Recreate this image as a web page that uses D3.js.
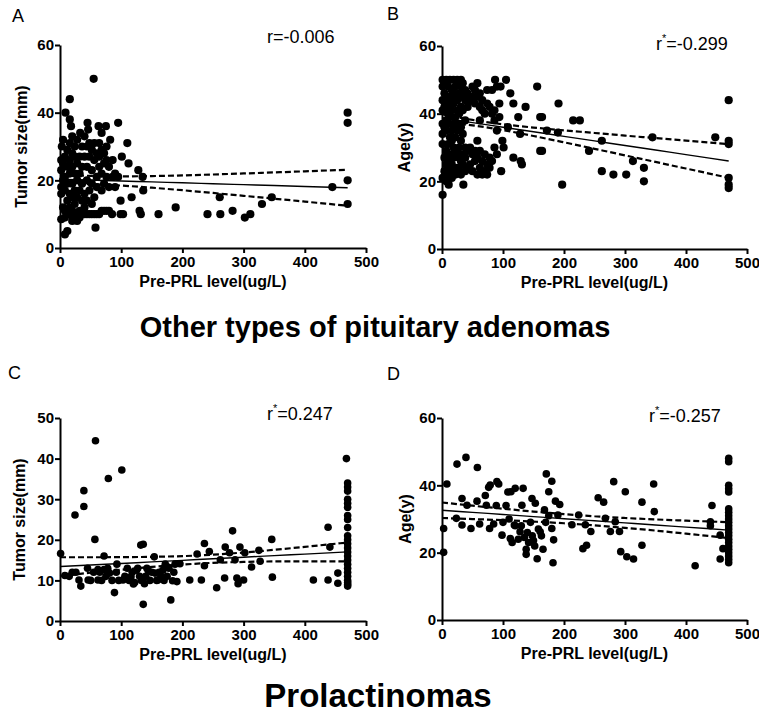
<!DOCTYPE html>
<html><head><meta charset="utf-8">
<script src="https://cdn.jsdelivr.net/npm/d3@7"></script>
<style>body{margin:0;background:#fff;} svg{display:block;font-family:"Liberation Sans",Arial,sans-serif;}</style>
</head><body><svg id="c" width="759" height="715"></svg>
<script>
// ---------- data ----------
const xTicks = [0,100,200,300,400,500];
const yTicks60 = [0,20,40,60];
const yTicks50 = [0,10,20,30,40,50];
const fitX = [0,50,100,150,200,250,300,350,400,470];

// A: other adenomas, tumor size vs PRL
const tumorOther = [[2,8.5],[2,16],[2,18],[2,23],[2,26],[3,30],
[5,12],[5,20],[5,25],[5,32],
[8,4],[8,9],[8,11],[8,17],[8,21],[8,27],[9,40],
[12,5],[12,10],[12,14],[12,19],[12,24],[12,29],[16,38],
[16,10],[16,12],[16,16],[16,22],[16,26],[16,31],[18,36],[16,44],
[20,8],[20,11],[20,15],[20,19],[20,24],[20,28],[20,33],
[24,10],[24,13],[24,17],[24,22],[24,27],[24,30],
[28,8],[28,10],[28,15],[28,20],[28,25],[28,32],
[32,9],[32,11],[32,17],[32,22],[32,27],[33,34],
[36,10],[36,14],[36,19],[36,24],[36,30],
[40,10],[40,12],[40,16],[40,27],[40,33],
[44,10],[44,14],[44,20],[44,24],[44,30],[45,37],
[48,10],[48,17],[48,27],[48,31],[46,35],
[52,10],[52,13],[52,19],[52,23],[52,29],
[56,10],[56,15],[56,26],[56,31],[58,6],[55,50],
[60,10],[60,18],[60,21],[60,28],[63,36],
[64,10],[64,24],[64,27],[64,31],[68,34],
[68,11],[68,17],[68,22],[68,29],
[72,11],[72,19],[72,25],[72,28],[75,36],
[76,11],[76,21],[76,26],[76,30],
[80,11],[80,18],[80,24],[82,32],
[85,10],[86,21],[86,26],[90,18],[90,22],[95,37],[95,21],[99,14],[101,27],[99,10],[103,10],
[110,31],[112,25],[117,15],[128,23],[135,21],[136,17],[132,10],[130,11],
[161,10],[189,12],[241,10],[261,15],[262,10],[282,11],[302,9],[311,10],[330,13],[346,15],
[445,18],[470,40],[470,37],[470,20],[470,13]];
const fitA = [20.35,20.08,19.81,19.54,19.27,19.0,18.73,18.46,18.19,17.81];
const upA  = [21.77,21.32,21.17,21.26,21.46,21.73,22.03,22.34,22.67,23.13];
const loA  = [18.93,18.84,18.45,17.82,17.08,16.27,15.43,14.58,13.71,12.49];

// B: other adenomas, age vs PRL
const ageOther = [[1,21],[1,31],[1,34],[1,37],[1,41],[1,44],[1,48],[1,50],
[4,23],[4,27],[4,36],[4,42],[4,46],[4,49],
[7,20],[7,25],[7,29],[7,35],[7,38],[7,44],[7,50],
[10,22],[10,26],[10,31],[10,37],[10,40],[10,45],[10,48],
[13,24],[13,28],[13,33],[13,39],[13,42],[13,50],
[16,21],[16,25],[16,32],[16,35],[16,41],[16,44],[16,47],
[19,23],[19,27],[19,30],[19,37],[19,43],[19,46],[19,50],
[22,22],[22,29],[22,33],[22,36],[22,39],[22,45],[22,48],
[25,24],[25,28],[25,35],[25,41],[25,44],[25,50],
[28,23],[28,27],[28,30],[28,37],[28,40],[28,46],[28,49],
[31,22],[31,26],[31,32],[31,36],[31,42],[31,48],[31,50],
[34,25],[34,28],[34,34],[34,41],[34,45],[34,49],
[38,23],[38,27],[38,30],[38,38],[38,44],[38,47],
[42,24],[42,29],[42,42],[42,46],
[46,25],[46,30],[46,44],
[50,23],[50,28],[50,45],[50,48],
[54,26],[54,29],[54,43],[54,47],
[58,22],[58,27],[58,32],[58,45],[58,49],
[62,24],[62,29],[62,38],[62,42],[62,46],
[66,22],[66,26],[66,41],[66,44],
[70,23],[70,28],[70,40],
[74,22],[74,25],[74,43],[74,47],
[78,24],[78,27],[78,42],
[82,26],[82,40],[82,47],[86,30],[86,38],[86,41],[90,28],[90,35],[90,48],
[1,16],[11,19],[35,19],[87,50],[105,50],[96,48],[112,46],[117,43],[94,43],[94,39],[125,39],
[137,42],[108,36],[128,34],[156,48],[161,39],[164,39],[172,35],[190,34.4],[191,43],
[161,29],[164,29],[99,32],[101,30],[97,23],[117,27],[131,25],[129,26],[215,38],[226,38],
[241,29],[197,19],[262,32],[262,23],[281,22],[302,22],[313,26],[331,24],[331,20],[345,33],
[448,33],[470,44],[470,32],[470,31],[470,21],[470,19],[470,18]];
const fitB = [38.7,37.35,36.0,34.65,33.3,31.95,30.6,29.25,27.9,26.01];
const upB  = [39.86,38.16,36.86,35.9,35.07,34.29,33.52,32.77,32.02,30.97];
const loB  = [37.54,36.54,35.14,33.4,31.53,29.61,27.68,25.73,23.78,21.05];

// C: prolactinomas, tumor size vs PRL
const tumorPrl = [[1,16.6],[8,11.2],[24.5,26.1],[26,12],[31,10.1],[34,8.6],[39,32.1],[39,28.2],
[46,10.1],[58,44.4],[57,20.1],[62,10.1],[72,16],[62,12.7],[72,12.7],[81,11.8],[79,35.1],[101,37.2],
[89,7],[93,14],[103,10.1],[116,10.9],[120,9.1],[125,12.5],[132,18.7],[136,18.9],[136,4.1],[138,9.2],
[144,12.5],[154,15.8],[155,11.8],[160,10.1],[168,12.5],[176,13.3],[181,5.2],[184,9.9],[191,9.7],
[196,14.1],[212,10.1],[224,16.5],[231,10.1],[236,19.1],[236,13.6],[244,17.1],[256,8.2],[262,15.1],
[269,10.6],[270,18.2],[277,16.8],[282,22.2],[286,15.1],[289,10.6],[291,9.2],[294,18.2],[300,10.1],
[302,16.8],[313,13.3],[325,17.4],[327,14.7],[346,20.1],[347,10.8],[414,10.1],[438,23.1],[438,10.1],
[441,18.2],[454,9.3],[454,11.8],
[50,10],[55,12],[65,12],[68,10],[75,11],[78,13],[85,10],[92,12],[96,10],[106,11],[110,13],[113,10],
[118,12],[122,9.5],[127,13],[130,11],[133,10],[140,11],[142,13],[147,10],[150,12],[158,10],[162,12],
[165,11],[170,10],[172,14],[175,11],[178,13],[186,12],[188,14],[45,13],[20,12],[15,11],
[468,40],[470,34],[470,33],[470,32],[470,30],[470,29],[470,28],[470,26],[470,25],[470,23],[470,21],
[470,20],[470,19],[470,18],[470,17],[470,16],[470,15],[470,14],[470,13],[470,12],[470,11],[470,10],
[470,9.5],[470,9],[470,8.6]];
const fitC = [13.4,13.79,14.17,14.56,14.94,15.33,15.71,16.1,16.48,17.02];
const upC  = [15.7,15.7,15.72,15.81,15.98,16.34,16.87,17.53,18.26,19.34];
const loC  = [11.1,11.88,12.62,13.31,13.9,14.32,14.55,14.67,14.7,14.7];

// D: prolactinomas, age vs PRL
const agePrl = [[8,40.4],[2.7,27.2],[2.7,20.1],[24.6,46.3],[39.3,48.3],[58,45.3],[23.5,30.2],[32.8,36.1],
[41,34.1],[32.8,28.2],[47.5,27.2],[57.4,35.3],[61.7,28.5],[71,37],[76.5,39.4],[72.7,34.1],[79,40.1],
[90,41.1],[93,40.4],[89,34],[78,27.2],[84.7,28.5],[98.4,25.2],[112,24.2],[113,38.1],[120,39.1],
[133,39.1],[131,34.1],[118.6,28.2],[128,26.2],[135,24.5],[138,19.5],[138,21],[147.5,36.1],[153,34.7],
[150,23.6],[156,18.2],[161,26.2],[165.6,21],[168,32.7],[171,43.4],[175,38.1],[180,41.2],[182,17],
[183,23.8],[180,27.2],[186,35.3],[193,34.3],[190,31.2],[213,28.3],[224,31.2],[231,21.2],[237,22.2],
[235,28.3],[244,26.3],[256,36.3],[265,35],[267.8,30.2],[276,26.3],[281.5,41.1],[284,29.2],[291,26.3],
[293,20.3],[303,18.8],[314,18.1],[300.5,38.1],[327.8,35],[327.8,22.2],[347,40.4],[348,32.2],[415,16.1],
[442.6,34],[440,29.2],[440,28],[456,25.2],[456,18.1],[460.6,21.2],
[140,26],[142,23],[145,29],[130,28],[125,24],[148,25],[152,22],[158,27],[163,25],[170,29],[175,31],
[105,34],[100,29],[110,30],[115,23],[120,28],[108,38],
[470,48],[470,47],[470,40],[470,39],[470,38],[470,33],[470,32],[470,31],[470,30],[470,29],[470,28],
[470,27],[470,26],[470,25],[470,24],[470,23],[470,22],[470,21],[470,20],[470,19],[470,18],[470,17]];
const fitD = [32.6,31.97,31.35,30.72,30.09,29.46,28.84,28.21,27.58,26.7];
const upD  = [34.9,33.95,33.06,32.21,31.45,30.81,30.3,29.87,29.51,29.07];
const loD  = [30.3,29.99,29.64,29.23,28.73,28.11,27.38,26.55,25.65,24.33];

const xTitle = "Pre-PRL level(ug/L)";
const groupTitles = ["Other types of pituitary adenomas", "Prolactinomas"];

// ---------- layout ----------
const panels = [
  {letter:"A", lx:12, ly:22, x0:60, x1:366, yt:45, yb:248, ymax:60, yTicks:yTicks60, yTitle:"Tumor size(mm)", ytx:27,
   r:"r", rv:"=-0.006", star:false, rx:267, ry:43, pts:tumorOther, fit:fitA, up:upA, lo:loA, rad:4.1},
  {letter:"B", lx:387, ly:20, x0:442, x1:747, yt:46, yb:249, ymax:60, yTicks:yTicks60, yTitle:"Age(y)", ytx:410,
   r:"r", rv:"=-0.299", star:true, rx:656, ry:50, pts:ageOther, fit:fitB, up:upB, lo:loB, rad:4.1},
  {letter:"C", lx:8, ly:379, x0:60, x1:366, yt:418, yb:621, ymax:50, yTicks:yTicks50, yTitle:"Tumor size(mm)", ytx:25,
   r:"r", rv:"=0.247", star:true, rx:267, ry:420, pts:tumorPrl, fit:fitC, up:upC, lo:loC, rad:3.8},
  {letter:"D", lx:387, ly:380, x0:442, x1:747, yt:418, yb:620, ymax:60, yTicks:yTicks60, yTitle:"Age(y)", ytx:411,
   r:"r", rv:"=-0.257", star:true, rx:649, ry:422, pts:agePrl, fit:fitD, up:upD, lo:loD, rad:3.8}
];

const svg = d3.select("#c");

panels.forEach(p => {
  const g = svg.append("g");
  const x = d3.scaleLinear().domain([0,500]).range([p.x0,p.x1]);
  const y = d3.scaleLinear().domain([0,p.ymax]).range([p.yb,p.yt]);

  // points
  g.append("g").selectAll("circle").data(p.pts).join("circle")
    .attr("cx", d => x(d[0])).attr("cy", d => y(d[1])).attr("r", p.rad).attr("fill","#000");

  // fit + CI
  const line = d3.line().x((d,i) => x(fitX[i])).y(d => y(d)).curve(d3.curveMonotoneX);
  g.append("path").attr("d", line(p.fit)).attr("fill","none").attr("stroke","#000").attr("stroke-width",1.4);
  [p.up, p.lo].forEach(arr => {
    g.append("path").attr("d", line(arr)).attr("fill","none").attr("stroke","#000")
      .attr("stroke-width",2.2).attr("stroke-dasharray","6,3");
  });

  // axes
  const ax = g.append("g").attr("transform",`translate(0,${p.yb})`)
    .call(d3.axisBottom(x).tickValues(xTicks).tickSize(5).tickSizeOuter(0).tickPadding(3));
  const ay = g.append("g").attr("transform",`translate(${p.x0},0)`)
    .call(d3.axisLeft(y).tickValues(p.yTicks).tickSize(5).tickSizeOuter(0).tickPadding(1));
  [ax, ay].forEach(a => {
    a.select(".domain").attr("stroke","#000").attr("stroke-width",2);
    a.selectAll(".tick line").attr("stroke","#000").attr("stroke-width",2);
    a.selectAll(".tick text").attr("fill","#000").attr("font-size",15).attr("font-weight","bold")
      .attr("font-family",'"Liberation Sans",Arial,sans-serif');
  });

  // axis titles
  g.append("text").attr("x",(p.x0+p.x1)/2).attr("y",p.yb+39).attr("text-anchor","middle")
    .attr("font-size",16).attr("font-weight","bold").text(xTitle);
  g.append("text").attr("transform",`translate(${p.ytx},${(p.yt+p.yb)/2}) rotate(-90)`)
    .attr("text-anchor","middle").attr("font-size",16).attr("font-weight","bold").text(p.yTitle);

  // panel letter
  g.append("text").attr("x",p.lx).attr("y",p.ly).attr("font-size",18).text(p.letter);

  // r label
  const t = g.append("text").attr("x",p.rx).attr("y",p.ry).attr("font-size",18);
  t.append("tspan").text(p.r);
  if (p.star) t.append("tspan").attr("font-size",11).attr("dy",-8).text("*");
  t.append("tspan").attr("dy", p.star ? 8 : 0).text(p.rv);
});

svg.append("text").attr("x",375).attr("y",337).attr("text-anchor","middle")
  .attr("font-size",29).attr("font-weight","bold").text(groupTitles[0]);
svg.append("text").attr("x",378).attr("y",707).attr("text-anchor","middle")
  .attr("font-size",33).attr("font-weight","bold").text(groupTitles[1]);
</script>
</body></html>
